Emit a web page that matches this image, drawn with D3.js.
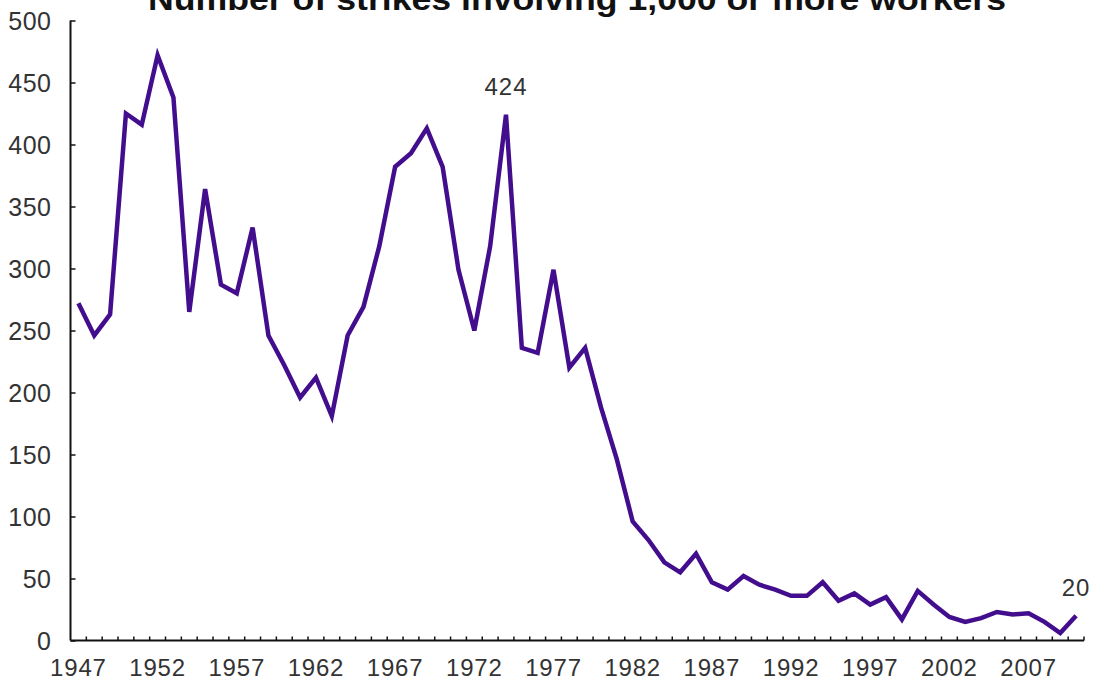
<!DOCTYPE html>
<html>
<head>
<meta charset="utf-8">
<script src="https://cdn.jsdelivr.net/npm/d3@7/dist/d3.min.js"></script>
<style>
  html, body { margin: 0; padding: 0; background: #fff; }
  svg { display: block; }
  text { font-family: "Liberation Sans", Arial, Helvetica, sans-serif; }
</style>
</head>
<body>
<svg id="chart" width="1094" height="679"></svg>
<script>
// Major work stoppages: strikes involving 1,000 or more workers, 1947-2010
const years = d3.range(1947, 2011);
const strikes = [
  272, 246, 263, 425, 416, 472, 438, 265, 364, 287,
  280, 333, 246, 222, 196, 212, 181, 246, 269, 318,
  382, 393, 413, 382, 299, 250, 318, 424, 236, 232,
  299, 220, 236, 188, 146, 96, 81, 63, 55, 70,
  47, 41, 52, 45, 41, 36, 36, 47, 32, 38,
  29, 35, 17, 40, 29, 19, 15, 18, 23, 21,
  22, 15, 6, 20
];
const yTicks = [0, 50, 100, 150, 200, 250, 300, 350, 400, 450, 500];
const xLabelYears = [1947, 1952, 1957, 1962, 1967, 1972, 1977, 1982, 1987, 1992, 1997, 2002, 2007];
const labelledYears = [1974, 2010];
const title = "Number of strikes involving 1,000 or more workers";

const svg = d3.select("#chart");

const x = d3.scaleBand().domain(years).range([70.5, 1084]).paddingInner(0).paddingOuter(0);
const y = d3.scaleLinear().domain([0, 500]).range([640.5, 20.5]);
const cx = d => x(d) + x.bandwidth() / 2;

// Title (sits partly above the top edge)
svg.append("text")
  .attr("x", 577).attr("y", 10)
  .attr("text-anchor", "middle")
  .attr("font-size", 32)
  .attr("font-weight", "bold")
  .attr("fill", "#111")
  .attr("textLength", 858)
  .attr("lengthAdjust", "spacingAndGlyphs")
  .text(title);

// Y axis: ticks pointing inward, labels on the left
const yAxis = d3.axisLeft(y).tickValues(yTicks).tickSize(-5).tickPadding(19);
const gy = svg.append("g").attr("transform", "translate(70.5,0)").call(yAxis);
gy.select(".domain").attr("stroke", "#111").attr("stroke-width", 2).attr("d", `M0,${y(500)}V${y(0)}`);
gy.selectAll(".tick line").attr("stroke", "#111").attr("stroke-width", 1.5);
gy.selectAll(".tick text")
  .attr("font-size", 25).attr("fill", "#333")
  .attr("font-family", "\"Liberation Sans\", Arial, sans-serif")
  .attr("letter-spacing", 0.5)
  .attr("dy", "0.36em");

// X axis: a small upward tick at every year boundary
const xAxisG = svg.append("g").attr("transform", `translate(0,${y(0)})`);
xAxisG.append("line")
  .attr("x1", 70.5).attr("x2", 1084)
  .attr("stroke", "#111").attr("stroke-width", 2);
xAxisG.selectAll("line.yt")
  .data(years.slice(1).concat([2011]))
  .join("line")
  .attr("class", "yt")
  .attr("x1", d => x(d - 1) + x.bandwidth()).attr("x2", d => x(d - 1) + x.bandwidth())
  .attr("y1", 0).attr("y2", -4)
  .attr("stroke", "#111").attr("stroke-width", 1.5);
xAxisG.selectAll("text.yl")
  .data(xLabelYears)
  .join("text")
  .attr("class", "yl")
  .attr("x", d => cx(d)).attr("y", 35)
  .attr("text-anchor", "middle")
  .attr("font-size", 24).attr("fill", "#333")
  .attr("letter-spacing", 0.8)
  .text(d => d);

// Data line
const line = d3.line().x((d, i) => cx(years[i])).y(d => y(d));
svg.append("path")
  .datum(strikes)
  .attr("fill", "none")
  .attr("stroke", "#430e8e")
  .attr("stroke-width", 4.5)
  .attr("stroke-linejoin", "miter")
  .attr("d", line);

// Value labels
svg.selectAll("text.vl")
  .data(labelledYears)
  .join("text")
  .attr("class", "vl")
  .attr("x", d => cx(d))
  .attr("y", d => y(strikes[years.indexOf(d)]) - 20)
  .attr("text-anchor", "middle")
  .attr("font-size", 24).attr("fill", "#333")
  .attr("letter-spacing", 1)
  .text(d => strikes[years.indexOf(d)]);
</script>
</body>
</html>
